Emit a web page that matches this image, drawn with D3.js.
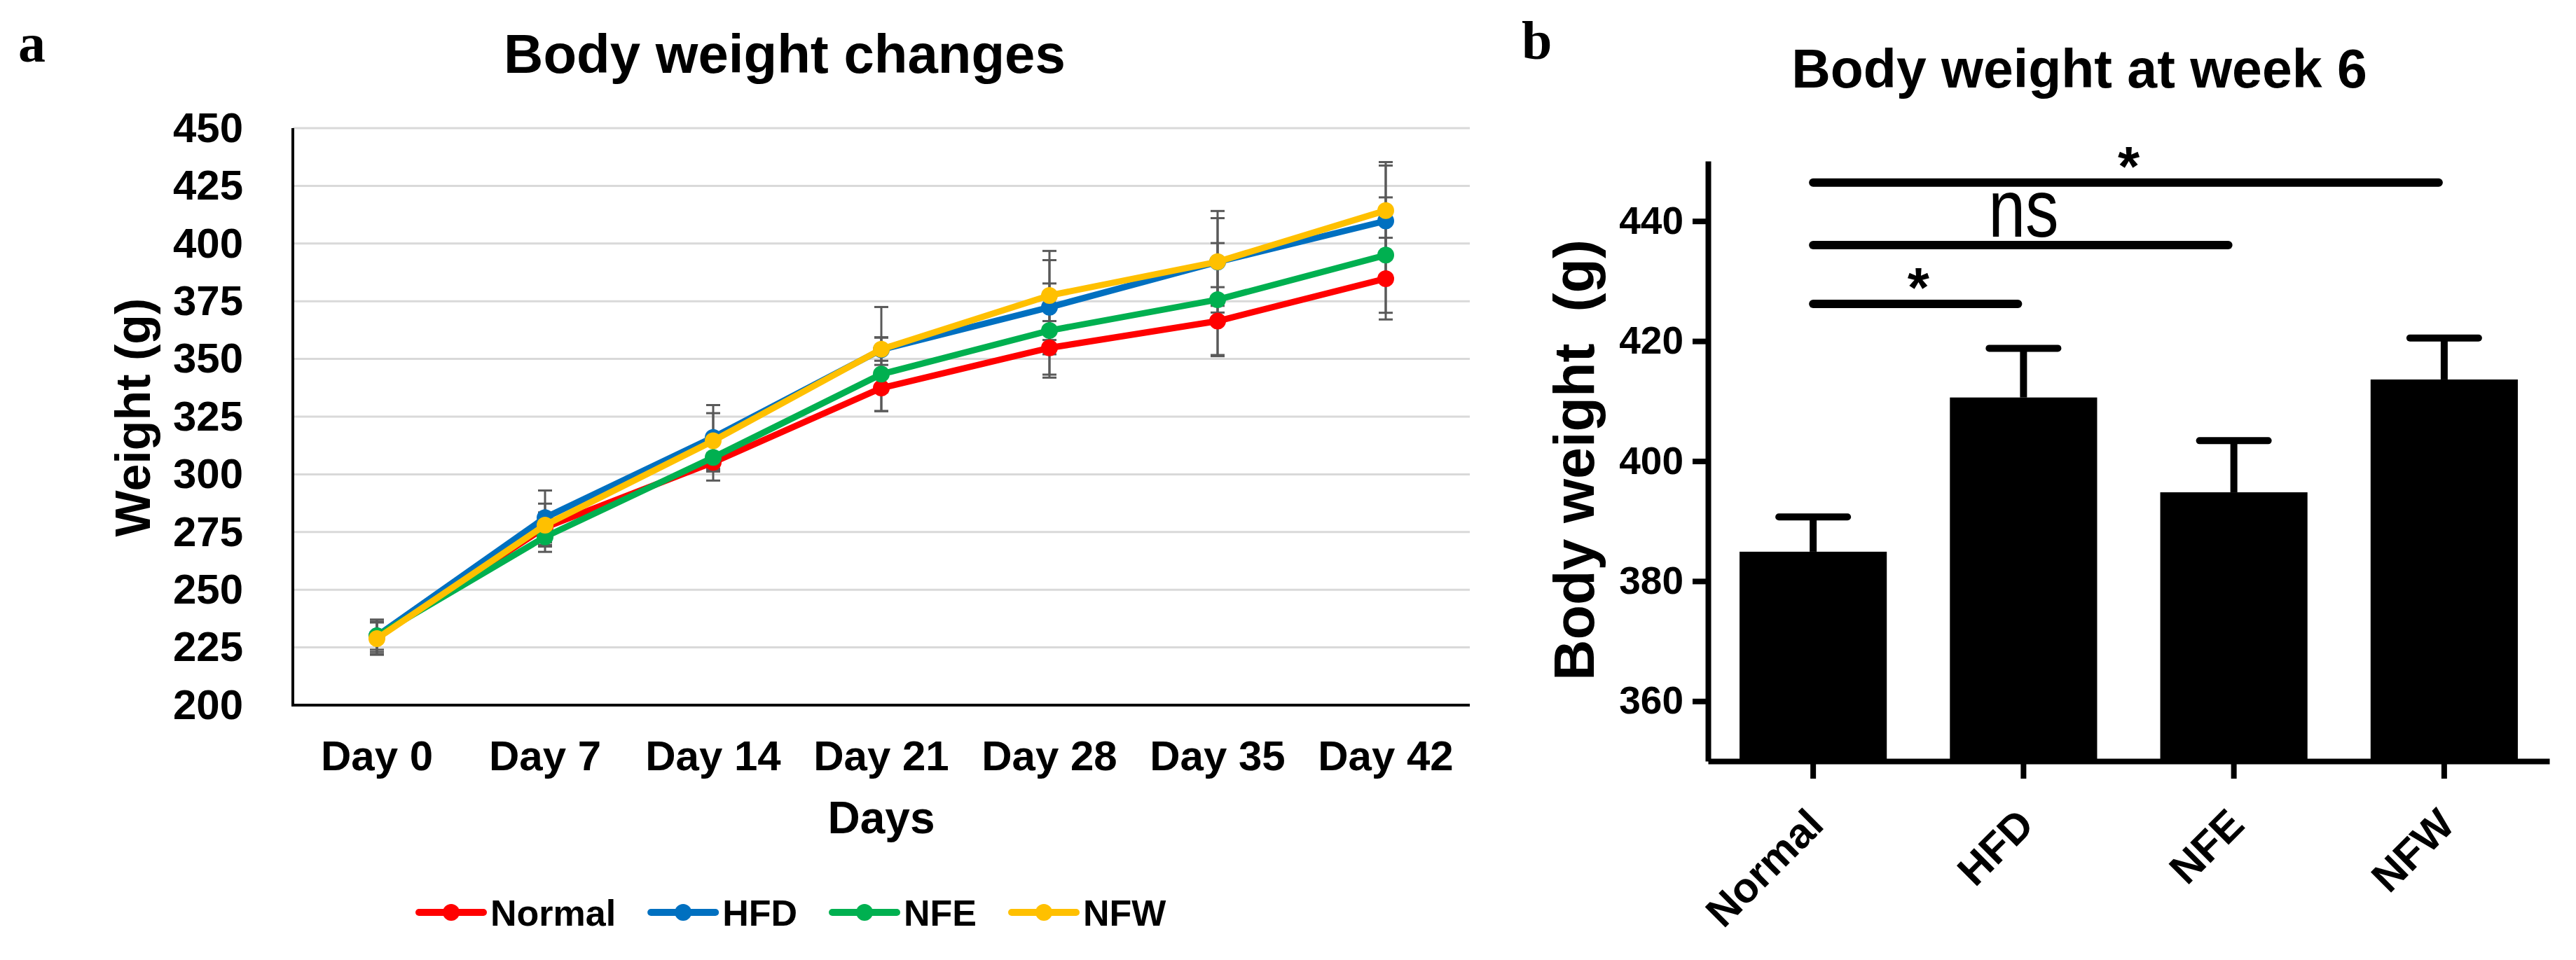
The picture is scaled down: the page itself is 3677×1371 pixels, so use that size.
<!DOCTYPE html>
<html>
<head>
<meta charset="utf-8">
<script src="https://cdn.jsdelivr.net/npm/d3@7"></script>
<style>
  body { margin: 0; background: #fff; }
  svg { display: block; }
  text { font-family: "Liberation Sans", Arial, sans-serif; }
</style>
</head>
<body>
<svg id="chart"></svg>
<script>
const width = 3677;
const height = 1371;

// ---- panel a data ----
const days = ["Day 0", "Day 7", "Day 14", "Day 21", "Day 28", "Day 35", "Day 42"];
const groups = ["Normal", "HFD", "NFE", "NFW"];
const groupColors = ["#ff0000", "#0070c0", "#00b050", "#ffc000"];

const normalWeight = [229.5, 277.0, 305.2, 337.4, 354.8, 366.4, 384.8];
const hfdWeight    = [230.0, 281.2, 316.0, 354.0, 372.4, 392.0, 409.8];
const nfeWeight    = [230.0, 272.9, 307.3, 343.4, 362.3, 375.7, 395.0];
const nfwWeight    = [228.8, 278.0, 314.5, 354.2, 377.5, 392.1, 414.3];

const normalErr = [7.5, 6.5, 4.0, 10.0, 11.6, 14.7, 17.7];
const hfdErr    = [6.0, 11.8, 14.0, 18.5, 20.4, 19.0, 24.0];
const nfeErr    = [7.0, 6.5, 10.0, 16.0, 20.4, 24.5, 25.0];
const nfwErr    = [7.0, 9.3, 12.0, 5.0, 19.3, 22.0, 21.0];

const weightTicks = [200, 225, 250, 275, 300, 325, 350, 375, 400, 425, 450];

// ---- panel b data ----
const week6Weight = [384.9, 410.6, 394.8, 413.6];
const week6Err    = [5.8, 8.2, 8.6, 6.9];
const week6Ticks  = [360, 380, 400, 420, 440];
// comparisons: from group, to group, bar height (g), label
const comparisons = [
  ["Normal", "HFD", 426.2, "*"],
  ["Normal", "NFE", 436.0, "ns"],
  ["Normal", "NFW", 446.4, "*"]
];

const svg = d3.select("#chart")
  .attr("width", width)
  .attr("height", height)
  .attr("viewBox", `0 0 ${width} ${height}`);

svg.append("rect").attr("width", width).attr("height", height).attr("fill", "#fff");

// ================= panel a =================
const series = [
  { name: "Normal", values: normalWeight, err: normalErr },
  { name: "HFD", values: hfdWeight, err: hfdErr },
  { name: "NFE", values: nfeWeight, err: nfeErr },
  { name: "NFW", values: nfwWeight, err: nfwErr }
];

const color = d3.scaleOrdinal().domain(groups).range(groupColors);

const xA = d3.scaleBand().domain(days).range([418, 2098]);
const yA = d3.scaleLinear().domain([200, 450]).range([1007, 183]);
const cx = d => xA(d) + xA.bandwidth() / 2;

const a = svg.append("g");

a.append("text")
  .attr("x", 26).attr("y", 88)
  .style("font-family", "'Liberation Serif', 'Times New Roman', serif")
  .style("font-weight", "bold").style("font-size", "78px")
  .text("a");

a.append("text")
  .attr("x", 1120).attr("y", 104)
  .attr("text-anchor", "middle")
  .style("font-weight", "bold").style("font-size", "78px")
  .text("Body weight changes");

// gridlines
a.append("g")
  .selectAll("line")
  .data(weightTicks.filter(t => t > 200))
  .join("line")
  .attr("x1", 418).attr("x2", 2098)
  .attr("y1", d => yA(d)).attr("y2", d => yA(d))
  .attr("stroke", "#d9d9d9").attr("stroke-width", 3);

// y axis
const yAxisA = a.append("g")
  .attr("transform", "translate(418,0)")
  .call(d3.axisLeft(yA).tickValues(weightTicks).tickSize(0).tickPadding(71));
yAxisA.select(".domain").remove();
yAxisA.selectAll("text")
  .style("font-family", "'Liberation Sans', Arial, sans-serif")
  .style("font-weight", "bold").style("font-size", "60px").attr("fill", "#000");

// x axis
const xAxisA = a.append("g")
  .attr("transform", "translate(0,1007)")
  .call(d3.axisBottom(xA).tickSize(0).tickPadding(50));
xAxisA.select(".domain").remove();
xAxisA.selectAll("text")
  .style("font-family", "'Liberation Sans', Arial, sans-serif")
  .style("font-weight", "bold").style("font-size", "60px").attr("fill", "#000");

a.append("line")
  .attr("x1", 418).attr("x2", 418).attr("y1", 183).attr("y2", 1009)
  .attr("stroke", "#000").attr("stroke-width", 4);
a.append("line")
  .attr("x1", 416).attr("x2", 2098).attr("y1", 1007).attr("y2", 1007)
  .attr("stroke", "#000").attr("stroke-width", 4);

a.append("text")
  .attr("x", 1258).attr("y", 1190)
  .attr("text-anchor", "middle")
  .style("font-weight", "bold").style("font-size", "64px")
  .text("Days");

a.append("text")
  .attr("transform", "translate(214,596) rotate(-90)")
  .attr("text-anchor", "middle")
  .style("font-weight", "bold").style("font-size", "70px")
  .text("Weight (g)");

// error bars
const errG = a.append("g").attr("stroke", "#595959").attr("stroke-width", 3);
series.forEach(s => {
  s.values.forEach((v, i) => {
    const x = cx(days[i]);
    const lo = yA(v - s.err[i]);
    const hi = yA(v + s.err[i]);
    errG.append("line").attr("x1", x).attr("x2", x).attr("y1", lo).attr("y2", hi);
    errG.append("line").attr("x1", x - 10).attr("x2", x + 10).attr("y1", lo).attr("y2", lo);
    errG.append("line").attr("x1", x - 10).attr("x2", x + 10).attr("y1", hi).attr("y2", hi);
  });
});

// lines and markers
const line = d3.line()
  .x((d, i) => cx(days[i]))
  .y(d => yA(d));

series.forEach(s => {
  a.append("path")
    .datum(s.values)
    .attr("d", line)
    .attr("fill", "none")
    .attr("stroke", color(s.name))
    .attr("stroke-width", 9)
    .attr("stroke-linejoin", "round");
  a.append("g")
    .selectAll("circle")
    .data(s.values)
    .join("circle")
    .attr("cx", (d, i) => cx(days[i]))
    .attr("cy", d => yA(d))
    .attr("r", 12)
    .attr("fill", color(s.name));
});

// legend
const legend = a.append("g").attr("transform", "translate(598,1303)");
let lx = 0;
series.forEach(s => {
  const item = legend.append("g").attr("transform", `translate(${lx},0)`);
  item.append("line")
    .attr("x1", 0).attr("x2", 92)
    .attr("stroke", color(s.name)).attr("stroke-width", 10)
    .attr("stroke-linecap", "round");
  item.append("circle").attr("cx", 46).attr("r", 12).attr("fill", color(s.name));
  const t = item.append("text")
    .attr("x", 102).attr("y", 19)
    .style("font-weight", "bold").style("font-size", "52px")
    .text(s.name);
  lx += 102 + t.node().getComputedTextLength() + 50;
});

// ================= panel b =================
const xB = d3.scaleBand().domain(groups).range([2438, 3639]).paddingInner(0.3).paddingOuter(0.15);
const yB = d3.scaleLinear().domain([350, 450]).range([1087, 230]);
const bx = d => xB(d) + xB.bandwidth() / 2;

const b = svg.append("g");

b.append("text")
  .attr("x", 2172).attr("y", 84)
  .style("font-family", "'Liberation Serif', 'Times New Roman', serif")
  .style("font-weight", "bold").style("font-size", "78px")
  .text("b");

b.append("text")
  .attr("x", 2968).attr("y", 125)
  .attr("text-anchor", "middle")
  .style("font-weight", "bold").style("font-size", "77px")
  .text("Body weight at week 6");

b.append("text")
  .attr("transform", "translate(2275,657) rotate(-90)")
  .attr("text-anchor", "middle")
  .attr("xml:space", "preserve")
  .style("white-space", "pre")
  .style("font-weight", "bold").style("font-size", "81px")
  .text("Body weight  (g)");

// bars
b.append("g")
  .selectAll("rect")
  .data(week6Weight)
  .join("rect")
  .attr("x", (d, i) => xB(groups[i]))
  .attr("width", xB.bandwidth())
  .attr("y", d => yB(d))
  .attr("height", d => yB(350) - yB(d))
  .attr("fill", "#000");

// error bars (upper only)
const errB = b.append("g").attr("stroke", "#000").attr("stroke-width", 10).attr("stroke-linecap", "round");
week6Weight.forEach((v, i) => {
  const x = bx(groups[i]);
  const top = yB(v + week6Err[i]);
  errB.append("line").attr("x1", x).attr("x2", x).attr("y1", yB(v)).attr("y2", top).attr("stroke-linecap", "butt");
  errB.append("line").attr("x1", x - 49).attr("x2", x + 49).attr("y1", top).attr("y2", top);
});

// axes
const yAxisB = b.append("g")
  .attr("transform", "translate(2438,0)")
  .call(d3.axisLeft(yB).tickValues(week6Ticks).tickSize(22).tickSizeOuter(0).tickPadding(13));
yAxisB.select(".domain").attr("stroke-width", 8);
yAxisB.selectAll(".tick line").attr("stroke-width", 8);
yAxisB.selectAll("text")
  .style("font-family", "'Liberation Sans', Arial, sans-serif")
  .style("font-weight", "bold").style("font-size", "55px").attr("fill", "#000");

const xAxisB = b.append("g")
  .attr("transform", "translate(0,1087)")
  .call(d3.axisBottom(xB).tickSize(25).tickSizeOuter(0));
xAxisB.select(".domain").attr("stroke-width", 8);
xAxisB.selectAll(".tick line").attr("stroke-width", 8);
xAxisB.selectAll("text")
  .attr("y", 0).attr("dy", null)
  .attr("text-anchor", "end")
  .attr("transform", "translate(18,94) rotate(-45)")
  .style("font-family", "'Liberation Sans', Arial, sans-serif")
  .style("font-weight", "bold").style("font-size", "60px").attr("fill", "#000");

// significance bars
comparisons.forEach(([from, to, level, label]) => {
  const x1 = bx(from);
  const x2 = bx(to) - 8;
  const y = yB(level);
  b.append("line")
    .attr("x1", x1).attr("x2", x2).attr("y1", y).attr("y2", y)
    .attr("stroke", "#000").attr("stroke-width", 12).attr("stroke-linecap", "round");
  const mid = (bx(from) + bx(to)) / 2;
  if (label === "ns") {
    b.append("text")
      .attr("transform", `translate(${mid},${y - 12}) scale(0.82,1)`)
      .attr("text-anchor", "middle")
      .style("font-size", "116px")
      .text(label);
  } else {
    b.append("text")
      .attr("x", mid).attr("y", y + 4)
      .attr("text-anchor", "middle")
      .style("font-weight", "bold").style("font-size", "80px")
      .text(label);
  }
});
</script>
</body>
</html>
